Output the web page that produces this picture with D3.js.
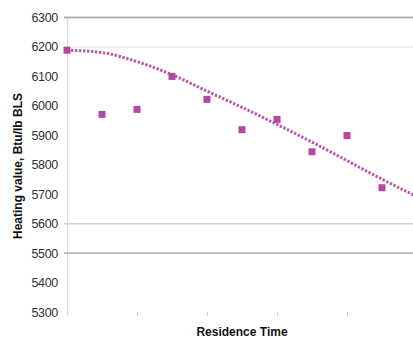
<!DOCTYPE html>
<html><head><meta charset="utf-8">
<script src="https://cdn.jsdelivr.net/npm/d3@7"></script>
<style>body{margin:0;background:#fff;overflow:hidden}svg{display:block}</style>
</head><body><svg id="c" width="413" height="340"></svg>
<script>
const categories = [0,1,2,3,4,5,6,7,8,9];
const heatingValues = [6189,5971,5988,6100,6022,5919,5954,5844,5899,5722];
const trendX = [0,1,2,3,4,5,6,7,8,9,10];
const trendValues = [6189,6181,6150,6106,6050,5995,5937,5877,5814,5751,5692];
const yTicks = [5300,5400,5500,5600,5700,5800,5900,6000,6100,6200,6300];
const xTicks = [2,4,6,8];
const gridLines = [
  {v:6300, c:"#b4b4b4", w:2},
  {v:6200, c:"#ececec", w:1.5},
  {v:5600, c:"#d2d2d2", w:1.5},
  {v:5500, c:"#b8b8b8", w:1.8}
];

const svg = d3.select("#c");
const x = d3.scaleLinear().domain([0,10]).range([67,417]);
const y = d3.scaleLinear().domain([5300,6300]).range([312,17.5]);
const col = "#b3489f";

svg.append("line").attr("x1",67.5).attr("x2",67.5).attr("y1",18).attr("y2",316)
  .attr("stroke","#dcdcdc").attr("stroke-width",1.2);

svg.selectAll("line.g").data(gridLines).join("line").attr("class","g")
  .attr("x1",64).attr("x2",413).attr("y1",d=>y(d.v)).attr("y2",d=>y(d.v))
  .attr("stroke",d=>d.c).attr("stroke-width",d=>d.w);

const ya = d3.axisLeft(y).tickValues(yTicks).tickSize(0).tickPadding(9).tickFormat(d3.format("d"));
const gy = svg.append("g").attr("transform","translate(67,0)").call(ya);
gy.select(".domain").remove();
gy.selectAll("text").attr("font-family","Liberation Sans, Arial, sans-serif")
  .attr("font-size","12.5px").attr("fill","#333").attr("letter-spacing","-0.3");

const xa = d3.axisBottom(x).tickValues(xTicks).tickSize(4).tickFormat("");
const gx = svg.append("g").attr("transform","translate(0,312)").call(xa);
gx.select(".domain").remove();
gx.selectAll("line").attr("stroke","#d0d0d0").attr("stroke-width",1);

const line = d3.line().x((d,i)=>x(trendX[i])).y(d=>y(d)).curve(d3.curveMonotoneX);
svg.append("path").datum(trendValues).attr("d",line).attr("fill","none")
  .attr("stroke",col).attr("stroke-width",3).attr("stroke-dasharray","2.4,1.6")
  .attr("opacity",0.9);

const s = 7;
svg.selectAll("rect.p").data(heatingValues).join("rect").attr("class","p")
  .attr("x",(d,i)=>x(categories[i])-s/2).attr("y",d=>y(d)-s/2)
  .attr("width",s).attr("height",s).attr("fill",col);

svg.append("text").attr("transform","translate(22,166) rotate(-90)")
  .attr("text-anchor","middle").attr("font-family","Liberation Sans, Arial, sans-serif")
  .attr("font-weight","bold").attr("font-size","12px").attr("fill","#111")
  .text("Heating value, Btu/lb BLS");
svg.append("text").attr("x",242).attr("y",336)
  .attr("text-anchor","middle").attr("font-family","Liberation Sans, Arial, sans-serif")
  .attr("font-weight","bold").attr("font-size","12px").attr("fill","#111")
  .text("Residence Time");
</script></body></html>
